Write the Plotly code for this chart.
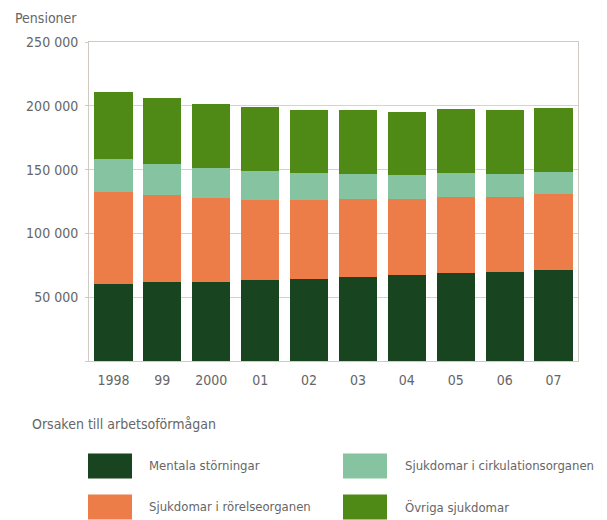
import plotly.graph_objects as go

years = ["1998", "99", "2000", "01", "02", "03", "04", "05", "06", "07"]
mentala = [60000, 61600, 62300, 63400, 64400, 66000, 67300, 68900, 69400, 71200]
rorelse = [72500, 68800, 65700, 62800, 61800, 60800, 59400, 59900, 59100, 59900]
cirkulation = [26100, 24300, 23100, 22800, 21000, 19900, 19100, 18800, 18100, 17300]
ovriga = [52100, 51400, 50500, 49700, 49900, 49700, 49200, 50200, 50000, 50200]

series_names = ["Mentala störningar", "Sjukdomar i rörelseorganen",
                "Sjukdomar i cirkulationsorganen", "Övriga sjukdomar"]
colors = ["#18451f", "#ec7d48", "#86c3a0", "#4f8a16"]
ytick_vals = [0, 50000, 100000, 150000, 200000, 250000]
ytick_text = ["", "50 000", "100 000", "150 000", "200 000", "250 000"]

FONT = "Liberation Sans Narrow, Noto Sans Condensed, DejaVu Sans Condensed, sans-serif"
TXT = "#666666"
FS = 14
LFS = 13

# page body has an 8px offset; layout coordinates below are target pixels minus 8
OFF = 8
W, H = 607, 520
ML, MR, MT, MB = 89 - OFF, W - (578 - OFF), 42 - OFF, H - (360.7 - OFF)

fig = go.Figure()
for name, vals, c in zip(series_names, [mentala, rorelse, cirkulation, ovriga], colors):
    fig.add_trace(go.Bar(x=years, y=vals, name=name, marker=dict(color=c, line=dict(width=0)),
                         showlegend=False))

fig.update_layout(
    barmode="stack", bargap=0.22,
    width=W, height=H,
    margin=dict(l=ML, r=MR, t=MT, b=MB),
    paper_bgcolor="white", plot_bgcolor="white",
    font=dict(family=FONT, size=FS, color=TXT),
    xaxis=dict(type="category", showline=True, linecolor="#cfcac2", linewidth=1, mirror=True,
               ticks="", tickfont=dict(size=FS, color=TXT), showgrid=False,
               ticklabelstandoff=6),
    yaxis=dict(range=[0, 250000], tickvals=ytick_vals, ticktext=ytick_text,
               showline=True, linecolor="#cfcac2", linewidth=1, mirror=True,
               showgrid=True, gridcolor="#d8d2c8", gridwidth=1,
               ticks="outside", ticklen=3, tickcolor="#cfcac2",
               tickfont=dict(size=FS, color=TXT), zeroline=False,
               ticklabelstandoff=4),
)

pw = W - ML - MR
ph = H - MT - MB

def px_x(x):
    return (x - OFF - ML) / pw

def px_y(y):
    return (H - MB - (y - OFF)) / ph

# Y-axis title
fig.add_annotation(text="Pensioner", xref="paper", yref="paper", x=px_x(79), y=px_y(18),
                   xanchor="right", yanchor="middle", showarrow=False,
                   font=dict(size=FS, color=TXT))

fig.add_annotation(text="Orsaken till arbetsoförmågan", xref="paper", yref="paper",
                   x=px_x(30), y=px_y(424), xanchor="left", yanchor="middle",
                   showarrow=False, font=dict(size=FS, color=TXT))

legend_pos = [(88, 453, 147), (88, 494, 147), (343, 453, 403), (343, 494, 403)]
for (sx, sy, tx), name, c in zip(legend_pos, series_names, colors):
    fig.add_shape(type="rect", xref="paper", yref="paper",
                  x0=px_x(sx), x1=px_x(sx + 44), y0=px_y(sy), y1=px_y(sy + 25),
                  fillcolor=c, line=dict(width=0))
    fig.add_annotation(text=name, xref="paper", yref="paper", x=px_x(tx), y=px_y(sy + 12.5),
                       xanchor="left", yanchor="middle", showarrow=False,
                       font=dict(size=LFS, color=TXT))

fig.write_html("out.html")
